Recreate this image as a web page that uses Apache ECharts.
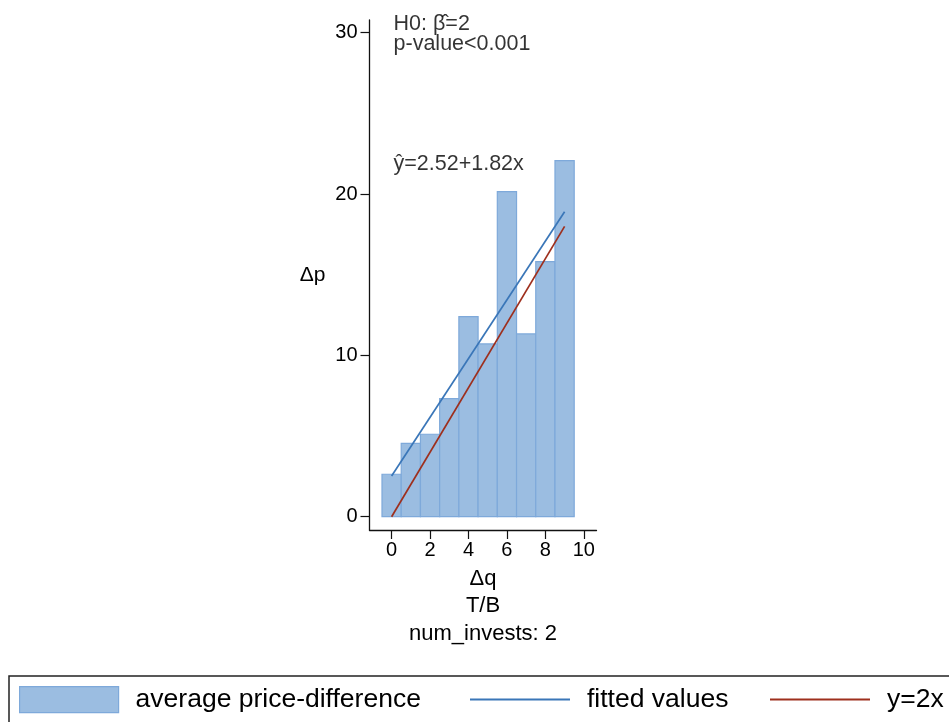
<!DOCTYPE html>
<html>
<head>
<meta charset="utf-8">
<script src="https://cdn.jsdelivr.net/npm/echarts@6/dist/echarts.min.js"></script>
<style>
html,body{margin:0;padding:0;background:#fff;}
#c{width:949px;height:722px;}
</style>
</head>
<body>
<div id="c"></div>
<script>
// ---- data ----
var barX = [0, 1, 2, 3, 4, 5, 6, 7, 8, 9];
var barY = [2.63, 4.55, 5.11, 7.32, 12.40, 10.71, 20.15, 11.33, 15.81, 22.07];
var fittedX = [0, 9];
var fittedY = [2.52, 18.90];
var refX = [0, 9];
var refY = [0, 18];
var xTicks = [0, 2, 4, 6, 8, 10];
var yTicks = [0, 10, 20, 30];
var annX = [0.1, 0.1, 0.1];
var annY = [30.55, 29.3, 21.85];
var annText = ['H0: \u03B2\u0302=2', 'p-value<0.001', '\u0177=2.52+1.82x'];
var seriesNames = ['average price-difference', 'fitted values', 'y=2x'];

var FONT = 'Liberation Sans, Arial, sans-serif';
var FILL = '#9bbde1', EDGE = '#7ea9da', BLUE = '#3a76b8', RED = '#9e2f1d';

var chart = echarts.init(document.getElementById('c'), null, {renderer: 'canvas'});
var option = {
  animation: false,
  backgroundColor: '#fff',
  textStyle: {fontFamily: FONT, color: '#000'},
  grid: {left: 369.5, top: 20, width: 227, height: 510, containLabel: false},
  xAxis: {
    type: 'value', min: -1.15, max: 10.66,
    name: '\u0394q\nT/B\nnum_invests: 2', nameLocation: 'middle', nameGap: 29,
    nameTextStyle: {fontSize: 22, lineHeight: 27.5, color: '#000', fontFamily: FONT},
    axisLine: {show: true, onZero: false, lineStyle: {color: '#111', width: 1.3}},
    axisTick: {show: true, customValues: xTicks, length: 9, lineStyle: {color: '#111', width: 1.2}},
    axisLabel: {customValues: xTicks, fontSize: 20, margin: 10, color: '#000', fontFamily: FONT},
    splitLine: {show: false}
  },
  yAxis: {
    type: 'value', min: -0.825, max: 30.79,
    name: '\u0394p', nameLocation: 'middle', nameRotate: 0, nameGap: 44,
    nameTextStyle: {fontSize: 21, color: '#000', fontFamily: FONT},
    axisLine: {show: true, onZero: false, lineStyle: {color: '#111', width: 1.3}},
    axisTick: {show: true, customValues: yTicks, length: 9, lineStyle: {color: '#111', width: 1.2}},
    axisLabel: {customValues: yTicks, fontSize: 20, margin: 12, color: '#000', fontFamily: FONT},
    splitLine: {show: false}
  },
  legend: [
    {data: [seriesNames[0]], left: 14, top: 681, itemWidth: 99, itemHeight: 26, icon: 'rect',
     itemGap: 0, textStyle: {fontSize: 26.5, fontFamily: FONT, color: '#000', padding: [0, 0, 0, 12]},
     itemStyle: {color: FILL, borderColor: EDGE, borderWidth: 1.2}},
    {data: [seriesNames[1]], left: 465, top: 681, itemWidth: 100, itemHeight: 2, icon: 'rect',
     textStyle: {fontSize: 26.5, fontFamily: FONT, color: '#000', padding: [0, 0, 0, 12]},
     itemStyle: {color: BLUE, borderWidth: 0}},
    {data: [seriesNames[2]], left: 765, top: 681, itemWidth: 100, itemHeight: 2, icon: 'rect',
     textStyle: {fontSize: 26.5, fontFamily: FONT, color: '#000', padding: [0, 0, 0, 12]},
     itemStyle: {color: RED, borderWidth: 0}}
  ],
  graphic: [
    {type: 'rect', shape: {x: 9, y: 676, width: 960, height: 80},
     style: {fill: 'none', stroke: '#222', lineWidth: 1.5}, silent: true, z: 0}
  ],
  series: [
    {
      name: seriesNames[0], type: 'custom', z: 2,
      itemStyle: {color: FILL, borderColor: EDGE, borderWidth: 1.2},
      data: barX.map(function (x, i) { return [x, barY[i]]; }),
      renderItem: function (params, api) {
        var x = api.value(0), y = api.value(1);
        var p0 = api.coord([x - 0.5, y]);
        var p1 = api.coord([x + 0.5, 0]);
        return {
          type: 'rect',
          shape: {x: p0[0], y: p0[1], width: p1[0] - p0[0], height: p1[1] - p0[1]},
          style: {fill: FILL, stroke: EDGE, lineWidth: 1.2}
        };
      }
    },
    {
      name: seriesNames[1], type: 'line', z: 3, symbol: 'none', color: BLUE,
      lineStyle: {color: BLUE, width: 1.7},
      data: fittedX.map(function (x, i) { return [x, fittedY[i]]; })
    },
    {
      name: seriesNames[2], type: 'line', z: 3, symbol: 'none', color: RED,
      lineStyle: {color: RED, width: 1.7},
      data: refX.map(function (x, i) { return [x, refY[i]]; })
    },
    {
      name: 'annotations', type: 'scatter', z: 4, symbolSize: 0, silent: true,
      data: annX.map(function (x, i) { return {value: [x, annY[i]], text: annText[i]}; }),
      label: {
        show: true, position: 'inside', align: 'left', verticalAlign: 'middle',
        fontSize: 21.5, fontFamily: FONT, color: '#000',
        formatter: function (p) { return p.data.text; }
      }
    }
  ]
};
chart.setOption(option);
</script>
</body>
</html>
